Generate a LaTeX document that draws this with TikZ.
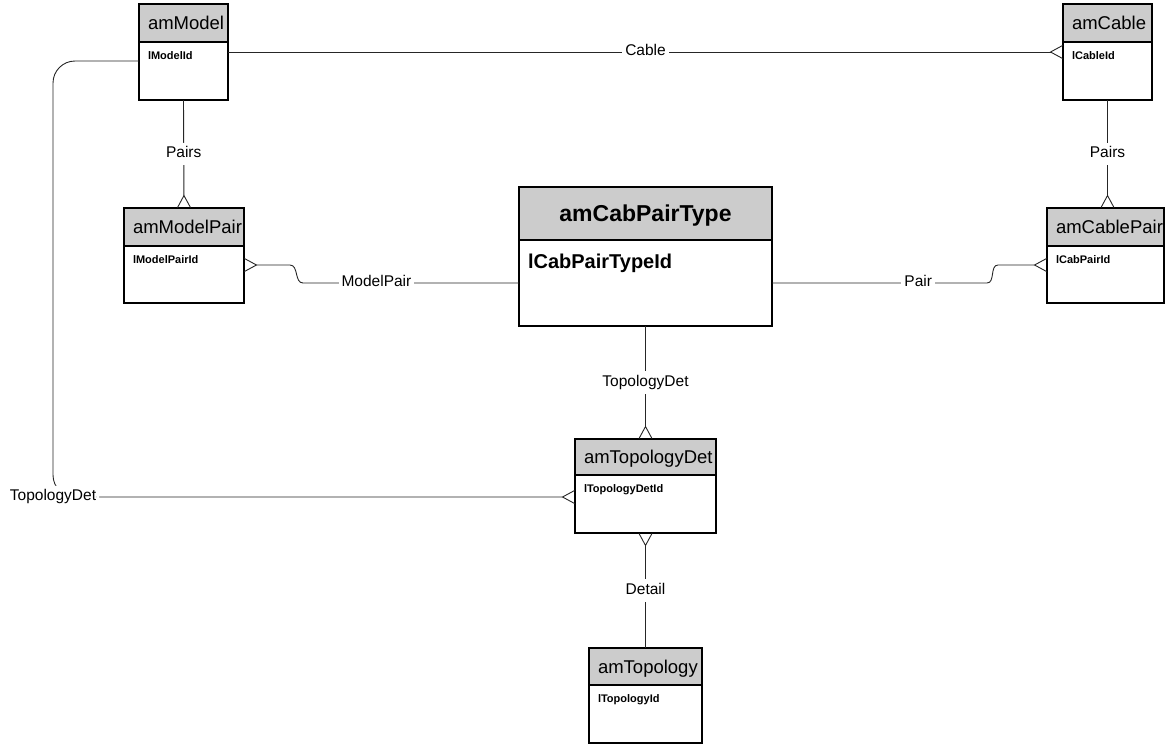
\documentclass[tikz,border=0pt]{standalone}
\usepackage{fontspec}
\setmainfont{Liberation Sans}
\usetikzlibrary{arrows.meta}

\begin{document}
\begin{tikzpicture}[x=1pt, y=-1pt,
  every node/.style={inner sep=0pt, outer sep=0pt},
  box/.style={draw=black, line width=1.3pt, fill=white, anchor=north west},
  hdr/.style={draw=black, line width=1.3pt, fill=black!20, anchor=north west, minimum height=38pt},
  title/.style={anchor=west, xshift=9pt, text height=13.2pt, text depth=0pt, font=\fontsize{18.5}{20}\selectfont},
  fld/.style={anchor=north west, xshift=9pt, yshift=-10pt, font=\fontsize{11}{12}\selectfont\bfseries},
  lbl/.style={fill=white, inner xsep=3pt, inner ysep=4pt, text height=11pt, text depth=3.3pt, font=\fontsize{15.5}{17}\selectfont},
  rel/.style={draw=black!85, line width=0.9pt},
  many/.style={rel, -{Straight Barb[reversed, length=12pt, width=13pt]}}]
		\useasboundingbox (0,0) rectangle (1166,744);
		
		% entities
		\node[box, minimum width=89pt, minimum height=96pt] (mdl) at (139,4){};
		\node[hdr, minimum width=89pt] (mdl-h) at (mdl.north west){};
		\node[title] at (mdl-h.west){amModel};
		\node[fld] at (mdl-h.south west){lModelId};
		
		\node[box, minimum width=89pt, minimum height=96pt] (cab) at (1063,4){};
		\node[hdr, minimum width=89pt] (cab-h) at (cab.north west){};
		\node[title] at (cab-h.west){amCable};
		\node[fld] at (cab-h.south west){lCableId};
		
		\node[box, minimum width=120pt, minimum height=95pt] (mdp) at (124,208){};
		\node[hdr, minimum width=120pt] (mdp-h) at (mdp.north west){};
		\node[title] at (mdp-h.west){amModelPair};
		\node[fld] at (mdp-h.south west){lModelPairId};
		
		\node[box, minimum width=117pt, minimum height=95pt] (cbp) at (1047,208){};
		\node[hdr, minimum width=117pt] (cbp-h) at (cbp.north west){};
		\node[title] at (cbp-h.west){amCablePair};
		\node[fld] at (cbp-h.south west){lCabPairId};
		
		\node[box, line width=2.4pt, minimum width=253pt, minimum height=139pt] (cpt) at (519,187){};
		\node[hdr, line width=2.4pt, minimum width=253pt, minimum height=53pt] (cpt-h) at (cpt.north west){};
		\node[text height=16.5pt, text depth=0pt, font=\fontsize{23}{25}\selectfont\bfseries] at (cpt-h.center){amCabPairType};
		\node[fld, yshift=-4pt, font=\fontsize{20}{22}\selectfont\bfseries] at (cpt-h.south west){lCabPairTypeId};
		
		\node[box, minimum width=141pt, minimum height=94pt] (tpd) at (575,439){};
		\node[hdr, minimum width=141pt, minimum height=36pt] (tpd-h) at (tpd.north west){};
		\node[title] at (tpd-h.west){amTopologyDet};
		\node[fld] at (tpd-h.south west){lTopologyDetId};
		
		\node[box, minimum width=113pt, minimum height=95pt] (tpg) at (589,648){};
		\node[hdr, minimum width=113pt, minimum height=37pt] (tpg-h) at (tpg.north west){};
		\node[title] at (tpg-h.west){amTopology};
		\node[fld] at (tpg-h.south west){lTopologyId};
		
		% relations
		\draw[many] ([yshift=-48pt]mdl.north east) -- node[lbl]{Cable} ([yshift=-48pt]cab.north west);
		\draw[many] (mdl.south) -- node[lbl]{Pairs} (mdp.north);
		\draw[many] (cab.south) -- node[lbl]{Pairs} (cab.south |- cbp.north);
		\draw[many] ([yshift=-96pt]cpt.north west) -- node[lbl, pos=0.66]{ModelPair} ++(-216,0) to[out=180, in=0] ++(-13,-18) -- ([yshift=-57pt]mdp.north east);
		\draw[many] ([yshift=-96pt]cpt.north east) -- node[lbl, pos=0.68]{Pair} ++(215,0) to[out=0, in=180] ++(11,-18) -- ([yshift=-57pt]cbp.north west);
		\draw[many] (cpt.south) -- node[lbl]{TopologyDet} (tpd.north);
		\draw[many] (tpg.north) -- node[lbl]{Detail} (tpd.south);
		\draw[many, rounded corners=22pt] ([yshift=-57pt]mdl.north west) -| (53,497) node[lbl]{TopologyDet} -- ([yshift=-58pt]tpd.north west);
\end{tikzpicture}
\end{document}
